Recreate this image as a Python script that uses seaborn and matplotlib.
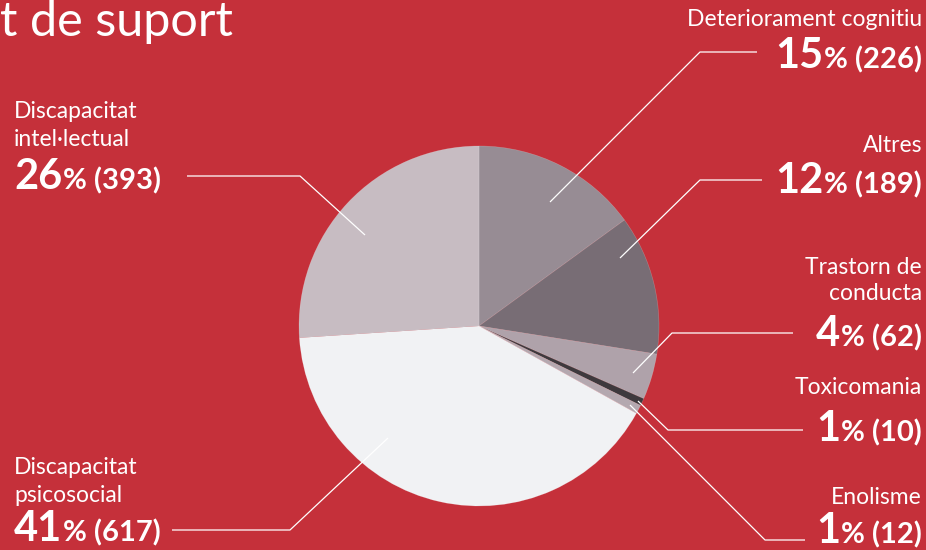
import matplotlib.pyplot as plt
import seaborn as sns

# data
categories = ["Deteriorament cognitiu", "Altres", "Trastorn de\nconducta", "Toxicomania",
              "Enolisme", "Discapacitat\npsicosocial", "Discapacitat\nintel·lectual"]
counts = [226, 189, 62, 10, 12, 617, 393]
percents = [15, 12, 4, 1, 1, 41, 26]
colors = ["#978c94", "#786d75", "#afa2aa", "#3e393d", "#b4a8af", "#f1f2f4", "#c7bcc2"]

BG = "#c5303a"
W, H = 926, 550

sns.set_style("white")
plt.rcParams["font.family"] = ["Lato", "DejaVu Sans"]

fig = plt.figure(figsize=(W / 100, H / 100), dpi=100, facecolor=BG)
ax = fig.add_axes([0, 0, 1, 1])
ax.set_facecolor(BG)


def Y(y):
    # image y (top-down) -> data y
    return H - y


ax.pie(counts, colors=colors, startangle=90, counterclock=False,
       center=(479, Y(326)), radius=180, frame=True,
       wedgeprops=dict(linewidth=0.4, edgecolor=(1, 1, 1, 0.25)))
ax.set_xlim(0, W)
ax.set_ylim(0, H)
ax.set_aspect("equal")
ax.axis("off")

ax.text(0, Y(22), "t de suport", fontsize=35, fontweight="normal",
        color="white", ha="left", va="center")

# layout: (side, name line centres, value baseline, leader points)
layout = [
    ("r", [20], 68, [(550, 202), (700, 52), (757, 52)]),
    ("r", [145], 193, [(620, 258), (700, 180), (762, 180)]),
    ("r", [268, 294], 346, [(633, 373), (672, 333), (793, 333)]),
    ("r", [388], 441, [(638, 401), (668, 430), (803, 430)]),
    ("r", [497], 543, [(630, 405), (765, 540), (805, 540)]),
    ("l", [468, 495], 541, [(388, 438), (290, 530), (172, 530)]),
    ("l", [112, 139], 189, [(365, 235), (300, 176), (187, 176)]),
]

fig.canvas.draw()
renderer = fig.canvas.get_renderer()

for name, n, p, (side, name_ys, val_y, pts) in zip(categories, counts, percents, layout):
    x = 922 if side == "r" else 14
    ha = "right" if side == "r" else "left"
    for line, yy in zip(name.split("\n"), name_ys):
        ax.text(x, Y(yy), line, fontsize=16.5, fontweight="normal", color="white",
                ha=ha, va="center")
    rest = f"% ({n})"
    base = Y(val_y)
    if side == "r":
        t2 = ax.text(x, base, rest, fontsize=21, fontweight="bold", color="white",
                     ha="right", va="baseline")
        bb = t2.get_window_extent(renderer)
        ax.text(bb.x0 - 1, base, str(p), fontsize=30, fontweight="bold",
                color="white", ha="right", va="baseline")
    else:
        t1 = ax.text(x, base, str(p), fontsize=30, fontweight="bold",
                     color="white", ha="left", va="baseline")
        bb = t1.get_window_extent(renderer)
        ax.text(bb.x1 + 1, base, rest, fontsize=21, fontweight="bold",
                color="white", ha="left", va="baseline")
    xs = [q[0] for q in pts]
    ys = [Y(q[1]) for q in pts]
    ax.plot(xs, ys, color="white", lw=0.9, solid_capstyle="butt")

fig.savefig("out.png", dpi=100, facecolor=BG)
